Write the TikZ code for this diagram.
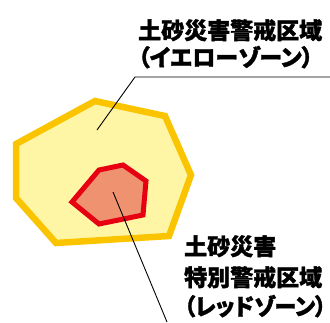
\documentclass[tikz,border=0pt]{standalone}
\usepackage{fontspec}
\newfontfamily\cjk[RawFeature={+palt}, BoldFeatures={FakeBold=1.5}]{Noto Sans CJK JP}
\definecolor{yfill}{HTML}{FFF6A5}
\definecolor{ydraw}{HTML}{FBC400}
\definecolor{rfill}{HTML}{EF9270}
\definecolor{rdraw}{HTML}{E60012}
\tikzset{
  zonelabel/.style={anchor=base west, inner sep=0pt, font=\cjk\bfseries\fontsize{23}{28}\selectfont},
  leader/.style={draw=black, line width=0.9pt},
  yzone/.style={fill=yfill, draw=ydraw, line width=6.5pt, line join=miter},
  rzone/.style={fill=rfill, draw=rdraw, line width=5pt, line join=miter}
}
\begin{document}
\begin{tikzpicture}[x=1pt,y=-1pt]
\useasboundingbox (0,0) rectangle (330,322);
% yellow zone
\coordinate (y1) at (95,101);
\coordinate (y2) at (165,116);
\coordinate (y3) at (191,175);
\coordinate (y4) at (169,236);
\coordinate (y5) at (56,243);
\coordinate (y6) at (16,198);
\coordinate (y7) at (16,144);
\draw[yzone] (y1) -- (y2) -- (y3) -- (y4) -- (y5) -- (y6) -- (y7) -- cycle;
% red zone
\coordinate (r1) at (99,170);
\coordinate (r2) at (123,165);
\coordinate (r3) at (146,181);
\coordinate (r4) at (143,215);
\coordinate (r5) at (99,224);
\coordinate (r6) at (72,202);
\draw[rzone] (r1) -- (r2) -- (r3) -- (r4) -- (r5) -- (r6) -- cycle;
% labels
\node[zonelabel] (t1) at (138,39) {土砂災害警戒区域};
\node[zonelabel] (t2) at (138,66) {（イエローゾーン）};
\node[zonelabel] (b1) at (184,255) {土砂災害};
\node[zonelabel] (b2) at (184,286) {特別警戒区域};
\node[zonelabel, xscale=0.96] (b3) at (184,315) {（レッドゾーン）};
% leaders
\coordinate (ya) at (97,130);
\coordinate (yb) at (135,77);
\coordinate (yc) at (330,77);
\draw[leader] (ya) -- (yb) -- (yc);
\coordinate (ra) at (113,192);
\coordinate (rb) at (167,322);
\draw[leader] (ra) -- (rb);
\end{tikzpicture}
\end{document}
